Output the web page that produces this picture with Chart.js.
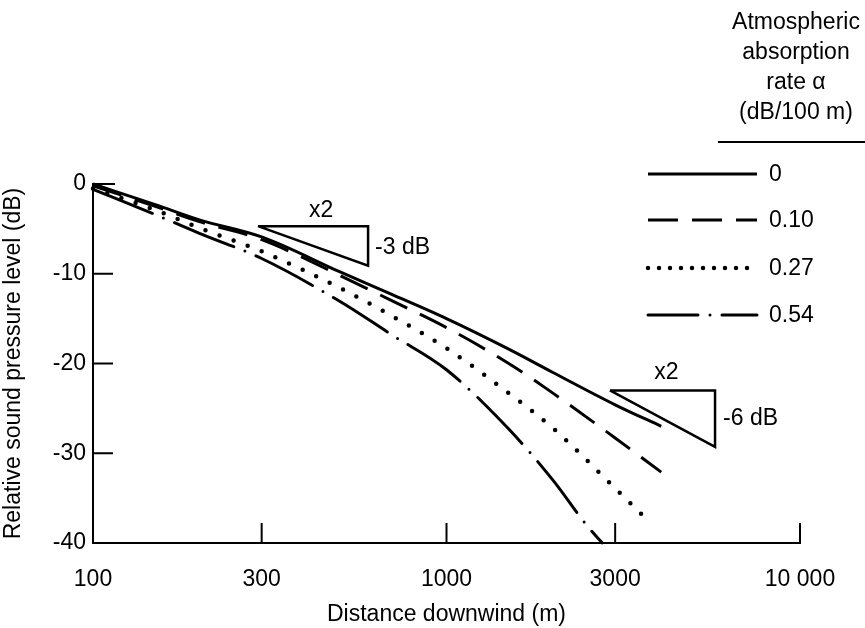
<!DOCTYPE html>
<html>
<head>
<meta charset="utf-8">
<script src="https://cdn.jsdelivr.net/npm/chart.js@4.4.1/dist/chart.umd.min.js"></script>
<style>
  html, body { margin: 0; padding: 0; background: #fff; }
</style>
</head>
<body>
<canvas id="grafico" width="865" height="628"></canvas>
<script>
// absorption rates (legend)
const alphaLabels = ["0", "0.10", "0.27", "0.54"];

// curves: distance (m) / relative level (dB)
const distSolid = [100, 150, 200, 300, 500, 700, 1000, 1500, 2000, 3000, 4050];
const levelSolid = [0, -2.3, -4.0, -5.9, -9.8, -12.3, -15.0, -18.4, -21.0, -24.6, -27.0];

const distDashed = [100, 150, 200, 300, 500, 700, 1000, 1500, 2000, 3000, 4050];
const levelDashed = [-0.2, -2.5, -4.2, -6.2, -10.2, -13.0, -16.0, -20.0, -23.3, -28.3, -32.1];

const distDotted = [100, 150, 200, 300, 500, 700, 1000, 1500, 2000, 3000, 3800];
const levelDotted = [-0.5, -2.9, -4.9, -7.5, -11.6, -14.7, -18.3, -23.3, -27.2, -33.9, -37.9];

const distDashDot = [100, 150, 200, 300, 500, 700, 1000, 1500, 2000, 2500, 2760];
const levelDashDot = [-0.6, -3.4, -5.5, -8.3, -13.1, -16.8, -20.7, -27.3, -33.0, -38.1, -40];

// slope triangles (x2 distance -> -3 dB, -6 dB)
const tri1Dist = [293, 600, 600, 293];
const tri1Level = [-4.7, -4.7, -9.1, -4.7];
const tri2Dist = [2900, 5750, 5750, 2900];
const tri2Level = [-23.0, -23.0, -29.3, -23.0];

// axes
const xTickValues = [100, 300, 1000, 3000, 10000];
const xTickLabels = ["100", "300", "1000", "3000", "10 000"];
const yTickValues = [0, -10, -20, -30, -40];

const fonte = "'Liberation Sans', Arial, Helvetica, sans-serif";
const tam = 23;

const estilos = [
  { dash: [], width: 3, cap: 'butt' },
  { dash: [30, 14], width: 3, cap: 'butt' },
  { dash: [0, 15], width: 4.5, cap: 'round' },
  { dash: [64, 12, 0, 12], width: 3, cap: 'round' }
];

function pares(xs, ys) {
  return xs.map((x, i) => ({ x: x, y: ys[i] }));
}

function curva(xs, ys, est) {
  return {
    data: pares(xs, ys),
    borderColor: '#000',
    borderWidth: est.width,
    borderDash: est.dash,
    borderCapStyle: est.cap,
    pointRadius: 0,
    cubicInterpolationMode: 'monotone',
    fill: false,
    clip: 8
  };
}

function triangulo(xs, ys) {
  return {
    data: pares(xs, ys),
    borderColor: '#000',
    borderWidth: 2.5,
    pointRadius: 0,
    tension: 0,
    fill: false,
    clip: false
  };
}

// inner ticks, triangle labels and the legend on the right
const extras = {
  id: 'extras',
  afterDraw(chart) {
    const ctx = chart.ctx;
    const xs = chart.scales.x;
    const ys = chart.scales.y;
    const area = chart.chartArea;

    ctx.save();
    ctx.strokeStyle = '#000';
    ctx.lineWidth = 2;
    ctx.setLineDash([]);
    yTickValues.slice(0, 4).forEach(v => {
      const y = ys.getPixelForValue(v);
      ctx.beginPath();
      ctx.moveTo(area.left, y);
      ctx.lineTo(area.left + (v === 0 ? 22 : 20), y);
      ctx.stroke();
    });
    xTickValues.slice(1).forEach(v => {
      const x = xs.getPixelForValue(v);
      ctx.beginPath();
      ctx.moveTo(x, area.bottom);
      ctx.lineTo(x, area.bottom - 20);
      ctx.stroke();
    });

    ctx.fillStyle = '#000';
    ctx.font = tam + 'px ' + fonte;
    ctx.textBaseline = 'middle';

    // triangle 1
    let xl = xs.getPixelForValue(tri1Dist[0]);
    let xr = xs.getPixelForValue(tri1Dist[1]);
    let yt = ys.getPixelForValue(tri1Level[0]);
    let yb = ys.getPixelForValue(tri1Level[2]);
    ctx.textAlign = 'center';
    ctx.fillText('x2', (xl + xr) / 2 + 8, yt - 16);
    ctx.textAlign = 'left';
    ctx.fillText('-3 dB', xr + 7, (yt + yb) / 2 + 2);

    // triangle 2
    xl = xs.getPixelForValue(tri2Dist[0]);
    xr = xs.getPixelForValue(tri2Dist[1]);
    yt = ys.getPixelForValue(tri2Level[0]);
    yb = ys.getPixelForValue(tri2Level[2]);
    ctx.textAlign = 'center';
    ctx.fillText('x2', (xl + xr) / 2 + 4, yt - 18);
    ctx.textAlign = 'left';
    ctx.fillText('-6 dB', xr + 8, (yt + yb) / 2);

    // legend
    ctx.textAlign = 'center';
    const titulo = ['Atmospheric', 'absorption', 'rate \u03b1', '(dB/100 m)'];
    titulo.forEach((t, i) => ctx.fillText(t, 796, 23 + i * 30));
    ctx.beginPath();
    ctx.moveTo(718, 142);
    ctx.lineTo(865, 142);
    ctx.stroke();

    ctx.textAlign = 'left';
    const linhas = [174, 220, 268, 315];
    alphaLabels.forEach((lab, i) => {
      const est = estilos[i];
      ctx.save();
      ctx.lineWidth = est.width;
      ctx.lineCap = est.cap;
      ctx.setLineDash(est.dash.length === 4 ? [50, 12, 0, 12] : (i === 2 ? [0, 11] : est.dash));
      ctx.beginPath();
      ctx.moveTo(648, linhas[i]);
      ctx.lineTo(757, linhas[i]);
      ctx.stroke();
      ctx.restore();
      ctx.fillText(lab, 769, linhas[i] + 1);
    });
    ctx.restore();
  }
};

new Chart('grafico', {
  type: 'line',
  data: {
    datasets: [
      curva(distSolid, levelSolid, estilos[0]),
      curva(distDashed, levelDashed, estilos[1]),
      curva(distDotted, levelDotted, estilos[2]),
      curva(distDashDot, levelDashDot, estilos[3]),
      triangulo(tri1Dist, tri1Level),
      triangulo(tri2Dist, tri2Level)
    ]
  },
  options: {
    responsive: false,
    animation: false,
    layout: { padding: { left: 0, top: 184, right: 65, bottom: 0 } },
    plugins: { legend: { display: false }, tooltip: { enabled: false } },
    scales: {
      x: {
        type: 'logarithmic',
        min: 100,
        max: 10000,
        grid: { display: false, drawTicks: false },
        border: { display: true, color: '#000', width: 2 },
        afterBuildTicks: (scale) => { scale.ticks = xTickValues.map(v => ({ value: v })); },
        afterFit: (scale) => { scale.height = 85; },
        ticks: {
          autoSkip: false,
          maxRotation: 0,
          padding: 23,
          color: '#000',
          font: { family: fonte, size: tam },
          callback: (v, i) => xTickLabels[i]
        },
        title: {
          display: true,
          text: 'Distance downwind (m)',
          color: '#000',
          font: { family: fonte, size: tam },
          padding: { top: 6, bottom: 0 }
        }
      },
      y: {
        min: -40,
        max: 0,
        grid: { display: false, drawTicks: false },
        border: { display: true, color: '#000', width: 2 },
        afterBuildTicks: (scale) => { scale.ticks = yTickValues.map(v => ({ value: v })); },
        afterFit: (scale) => { scale.width = 93; },
        ticks: {
          padding: 7,
          color: '#000',
          font: { family: fonte, size: tam }
        },
        title: {
          display: true,
          text: 'Relative sound pressure level (dB)',
          color: '#000',
          font: { family: fonte, size: tam },
          padding: { top: 0, bottom: 2 }
        }
      }
    }
  },
  plugins: [extras]
});
</script>
</body>
</html>
